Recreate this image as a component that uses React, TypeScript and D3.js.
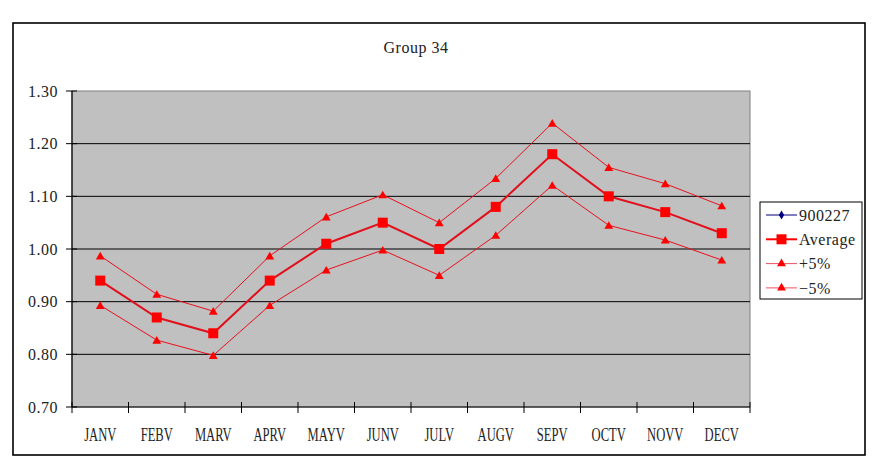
import React from "react";
import * as d3 from "d3";

const months = ["JANV", "FEBV", "MARV", "APRV", "MAYV", "JUNV", "JULV", "AUGV", "SEPV", "OCTV", "NOVV", "DECV"];
const average = [0.94, 0.87, 0.84, 0.94, 1.01, 1.05, 1.0, 1.08, 1.18, 1.1, 1.07, 1.03];
const plus5 = [0.987, 0.914, 0.882, 0.987, 1.061, 1.103, 1.05, 1.134, 1.239, 1.155, 1.124, 1.082];
const minus5 = [0.893, 0.827, 0.798, 0.893, 0.96, 0.998, 0.95, 1.026, 1.121, 1.045, 1.017, 0.979];
const series900227: number[] = [];
const yTicks = [0.7, 0.8, 0.9, 1.0, 1.1, 1.2, 1.3];
const legendItems = ["900227", "Average", "+5%", "\u22125%"];

const W = 876;
const H = 466;
const plot = { left: 72, right: 750, top: 91, bottom: 407 };
const serif = "'Liberation Serif', 'Times New Roman', serif";

const x = d3.scaleBand<string>().domain(months).range([plot.left, plot.right]);
const y = d3.scaleLinear().domain([0.7, 1.3]).range([plot.bottom, plot.top]);
const cx = (i: number) => (x(months[i]) as number) + x.bandwidth() / 2;
const line = d3
  .line<number>()
  .x((_, i) => cx(i))
  .y((d) => y(d));

const tri = d3.symbol().type(d3.symbolTriangle).size(34);
const diamond = d3.symbol().type(d3.symbolDiamond).size(24);

const Triangle = ({ px, py }: { px: number; py: number }) => (
  <path d={tri() as string} transform={`translate(${px},${py + 1})`} fill="#FF0000" />
);

const App = () => {
  return (
    <svg width={W} height={H} style={{ position: "absolute", left: 0, top: 0, background: "#fff" }}>
      <rect x={13} y={23} width={852} height={432} fill="#fff" stroke="#000" strokeWidth={1.6} />
      <text x={416} y={53} textAnchor="middle" fontFamily={serif} fontSize={16} letterSpacing={0.5} fill="#222">
        Group 34
      </text>

      {/* plot area */}
      <rect
        x={plot.left}
        y={plot.top}
        width={plot.right - plot.left}
        height={plot.bottom - plot.top}
        fill="#C0C0C0"
        stroke="#808080"
        strokeWidth={1}
      />
      {yTicks.slice(1, -1).map((t) => (
        <line key={t} x1={plot.left} x2={plot.right} y1={y(t)} y2={y(t)} stroke="#000" strokeWidth={1} />
      ))}

      {/* axes */}
      <line x1={plot.left} x2={plot.left} y1={plot.top} y2={plot.bottom} stroke="#000" strokeWidth={1.2} />
      <line x1={plot.left} x2={plot.right} y1={plot.bottom} y2={plot.bottom} stroke="#000" strokeWidth={1.2} />
      {yTicks.map((t) => (
        <g key={t}>
          <line x1={plot.left - 6} x2={plot.left + 5} y1={y(t)} y2={y(t)} stroke="#000" />
          <text
            x={plot.left - 14}
            y={y(t)}
            dy="0.35em"
            textAnchor="end"
            fontFamily={serif}
            fontSize={16}
            letterSpacing={0.5}
            fill="#222"
          >
            {t.toFixed(2)}
          </text>
        </g>
      ))}
      {[...months, ""].map((m, i) => {
        const tx = plot.left + i * x.step();
        return <line key={"t" + i} x1={tx} x2={tx} y1={plot.bottom - 5} y2={plot.bottom + 6} stroke="#000" />;
      })}
      {months.map((m, i) => (
        <text
          key={m}
          transform={`translate(${cx(i)},441) scale(0.7,1)`}
          textAnchor="middle"
          fontFamily={serif}
          fontSize={18}
          fill="#222"
        >
          {m}
        </text>
      ))}

      {/* series */}
      <path d={line(plus5) as string} fill="none" stroke="#E8101C" strokeWidth={1} />
      <path d={line(minus5) as string} fill="none" stroke="#E8101C" strokeWidth={1} />
      <path d={line(average) as string} fill="none" stroke="#E0101C" strokeWidth={2} />
      {series900227.length > 0 && (
        <path d={line(series900227) as string} fill="none" stroke="#000080" strokeWidth={1} />
      )}
      {plus5.map((v, i) => (
        <Triangle key={"p" + i} px={cx(i)} py={y(v)} />
      ))}
      {minus5.map((v, i) => (
        <Triangle key={"m" + i} px={cx(i)} py={y(v)} />
      ))}
      {average.map((v, i) => (
        <rect key={"a" + i} x={cx(i) - 5} y={y(v) - 5} width={10} height={10} fill="#FF0000" />
      ))}

      {/* legend */}
      <rect x={760} y={202} width={102} height={97} fill="#fff" stroke="#000" strokeWidth={1} />
      {legendItems.map((name, i) => {
        const ly = 215 + i * 24.3;
        return (
          <g key={name}>
            {i === 0 && (
              <>
                <line x1={766} x2={797} y1={ly} y2={ly} stroke="#000080" strokeWidth={1} />
                <path d={diamond() as string} transform={`translate(781.5,${ly})`} fill="#000080" />
              </>
            )}
            {i === 1 && (
              <>
                <line x1={766} x2={797} y1={ly} y2={ly} stroke="#FF0000" strokeWidth={2} />
                <rect x={776.5} y={ly - 5} width={10} height={10} fill="#FF0000" />
              </>
            )}
            {i > 1 && (
              <>
                <line x1={766} x2={797} y1={ly} y2={ly} stroke="#F05060" strokeWidth={1} />
                <Triangle px={781.5} py={ly - 1} />
              </>
            )}
            <text x={799} y={ly} dy="0.35em" fontFamily={serif} fontSize={16} letterSpacing={0.5} fill="#222">
              {name}
            </text>
          </g>
        );
      })}
    </svg>
  );
};

export default App;
